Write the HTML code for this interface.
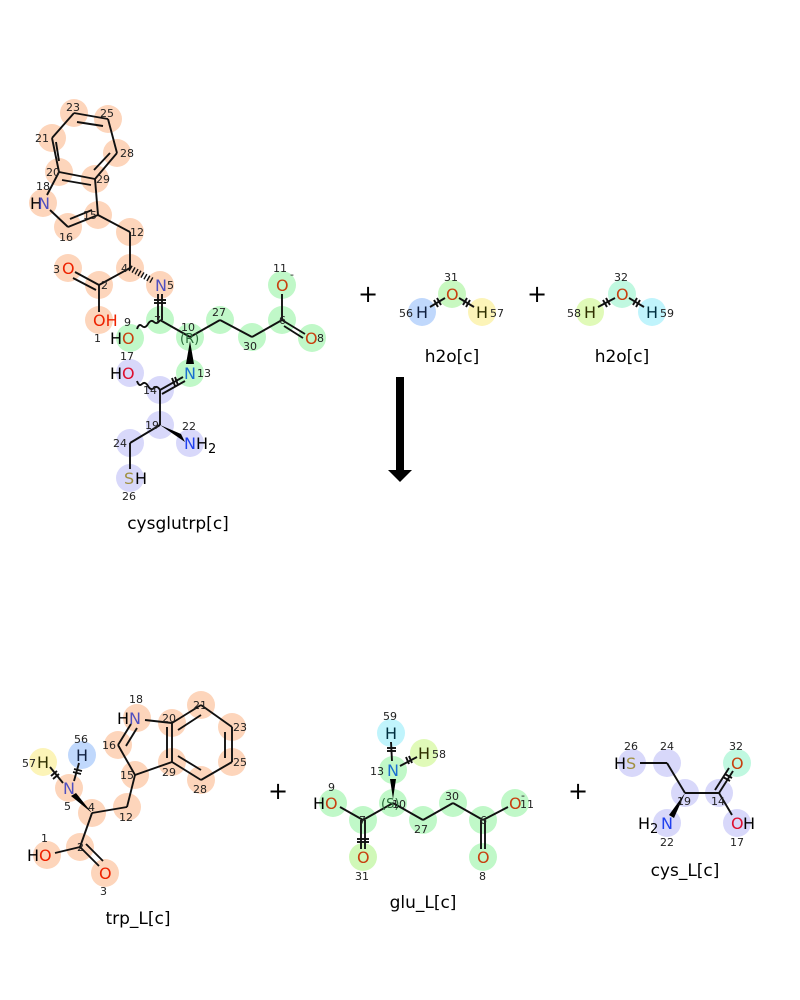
<!DOCTYPE html>
<html><head><meta charset="utf-8"><style>
html,body{margin:0;padding:0;background:#fff;}
svg{display:block;font-family:"DejaVu Sans","Liberation Sans",sans-serif;}
.n{font-size:11px;fill:#222;}
.a{font-size:16px;}
.lb{font-size:17px;fill:#000;}
.pl{font-size:24px;fill:#000;}
line,polyline,path{stroke:#111;stroke-width:1.9;fill:none;}
</style></head><body>
<svg width="800" height="1000" viewBox="0 0 800 1000" xmlns="http://www.w3.org/2000/svg">
<rect width="800" height="1000" fill="#fff"/>
<!-- ===== TOP: cysglutrp ===== -->
<g fill="#fdd5bb">
<circle cx="74" cy="113" r="14"/><circle cx="108" cy="119" r="14"/><circle cx="117" cy="153" r="14"/>
<circle cx="95" cy="179" r="14"/><circle cx="59" cy="172" r="14"/><circle cx="52" cy="138" r="14"/>
<circle cx="43" cy="203" r="14"/><circle cx="68" cy="227" r="14"/><circle cx="98" cy="215" r="14"/>
<circle cx="130" cy="232" r="14"/><circle cx="130" cy="268" r="14"/><circle cx="99" cy="285" r="14"/>
<circle cx="68" cy="268" r="14"/><circle cx="99" cy="320" r="14"/><circle cx="160" cy="285" r="14"/>
</g>
<g fill="#c0f8c8">
<circle cx="160" cy="320" r="14"/><circle cx="130" cy="338" r="14"/><circle cx="190" cy="337" r="14"/>
<circle cx="220" cy="320" r="14"/><circle cx="252" cy="337" r="14"/><circle cx="282" cy="320" r="14"/>
<circle cx="282" cy="285" r="14"/><circle cx="312" cy="338" r="14"/><circle cx="190" cy="373" r="14"/>
</g>
<g fill="#d8d8fa">
<circle cx="130" cy="373" r="14"/><circle cx="160" cy="390" r="14"/><circle cx="160" cy="425" r="14"/>
<circle cx="190" cy="443" r="14"/><circle cx="130" cy="443" r="14"/><circle cx="130" cy="478" r="14"/>
</g>
<!-- bonds top -->
<line x1="52" y1="138" x2="74" y2="113"/><line x1="74" y1="113" x2="108" y2="119"/><line x1="108" y1="119" x2="117" y2="153"/>
<line x1="117" y1="153" x2="95" y2="179"/><line x1="95" y1="179" x2="59" y2="172"/><line x1="59" y1="172" x2="52" y2="138"/>
<line x1="77" y1="122" x2="103" y2="126"/><line x1="110" y1="153" x2="94" y2="170"/><line x1="59" y1="161" x2="56" y2="142"/>
<line x1="59" y1="172" x2="47" y2="195"/><line x1="50" y1="210" x2="68" y2="227"/><line x1="68" y1="227" x2="98" y2="215"/>
<line x1="98" y1="215" x2="95" y2="179"/><line x1="70" y1="219" x2="92" y2="210"/><line x1="62" y1="180" x2="91" y2="185"/>
<line x1="98" y1="215" x2="130" y2="232"/><line x1="130" y1="232" x2="130" y2="268"/><line x1="130" y1="268" x2="99" y2="285"/>
<line x1="99" y1="285" x2="75" y2="272"/><line x1="96" y1="290" x2="73" y2="278"/><line x1="99" y1="285" x2="99" y2="312"/>
<line x1="130" y1="268" x2="153" y2="281" style="stroke-width:6;stroke-dasharray:1.4,2"/>
<line x1="158" y1="294" x2="158" y2="320"/><line x1="162" y1="294" x2="162" y2="320"/>
<line x1="154" y1="300" x2="166" y2="300"/><line x1="154" y1="303" x2="166" y2="303"/>
<path d="M160 320 q-3 5 -6 2 q-3 -3 -6 2 q-3 5 -6 2 q-3 -3 -5 3"/>
<line x1="160" y1="320" x2="190" y2="337"/><line x1="190" y1="337" x2="220" y2="320"/>
<line x1="220" y1="320" x2="252" y2="337"/><line x1="252" y1="337" x2="282" y2="320"/>
<line x1="282" y1="320" x2="282" y2="294"/><line x1="282" y1="320" x2="305" y2="334"/><line x1="284" y1="326" x2="303" y2="338"/>
<polygon points="190,341 186,364 194,364" fill="#000" style="stroke:none"/>
<line x1="183" y1="377" x2="160" y2="390"/><line x1="185" y1="381" x2="162" y2="394"/>
<line x1="172" y1="378" x2="175" y2="386"/><line x1="175" y1="377" x2="178" y2="385"/>
<path d="M160 390 q-3 -5 -6 -2 q-3 3 -6 -2 q-3 -5 -6 -2 q-3 3 -5 -3"/>
<line x1="160" y1="390" x2="160" y2="425"/>
<polygon points="160,425 181,434 185,442" fill="#000" style="stroke:none"/>
<line x1="160" y1="425" x2="130" y2="443"/><line x1="130" y1="443" x2="130" y2="469"/>
<!-- atom labels top -->
<text x="30" y="209" class="a" fill="#000">H</text><text x="38" y="209" class="a" fill="#5050c0">N</text>
<text x="62" y="274" class="a" fill="#ee2200">O</text><text x="53" y="273" class="n">3</text>
<text x="93" y="326" class="a" fill="#ee2200">OH</text><text x="94" y="342" class="n">1</text>
<text x="155" y="291" class="a" fill="#5050c0">N</text><text x="167" y="289" class="n">5</text>
<text x="110" y="344" class="a" fill="#000">H</text><text x="122" y="344" class="a" fill="#c84010">O</text><text x="124" y="326" class="n">9</text>
<text x="276" y="291" class="a" fill="#c84010">O</text><text x="273" y="272" class="n">11</text><text x="290" y="278" class="n">-</text>
<text x="305" y="344" class="a" fill="#c84010">O</text><text x="317" y="342" class="n">8</text>
<text x="184" y="379" class="a" fill="#1a70d0">N</text><text x="197" y="377" class="n">13</text>
<text x="110" y="379" class="a" fill="#000">H</text><text x="122" y="379" class="a" fill="#dd1030">O</text><text x="120" y="360" class="n">17</text>
<text x="184" y="449" class="a" fill="#2040ee">N</text><text x="196" y="449" class="a" fill="#000">H</text><text x="208" y="453" class="n" style="font-size:13px;fill:#000">2</text><text x="182" y="430" class="n">22</text>
<text x="124" y="484" class="a" fill="#a09040">S</text><text x="135" y="484" class="a" fill="#000">H</text><text x="122" y="500" class="n">26</text>
<g class="n">
<text x="66" y="111">23</text><text x="100" y="117">25</text><text x="120" y="157">28</text><text x="96" y="183">29</text>
<text x="46" y="176">20</text><text x="35" y="142">21</text><text x="36" y="190">18</text><text x="59" y="241">16</text>
<text x="83" y="219">15</text><text x="130" y="236">12</text><text x="121" y="272">4</text><text x="101" y="289">2</text>
<text x="154" y="324">7</text><text x="181" y="331">10</text><text x="212" y="316">27</text><text x="243" y="350">30</text><text x="279" y="324">6</text>
<text x="143" y="394">14</text><text x="145" y="429">19</text><text x="113" y="447">24</text>
</g>
<text x="180" y="343" style="font-size:13px;fill:#2a6a3a">(R)</text>
<text x="178" y="529" class="lb" text-anchor="middle">cysglutrp[c]</text>
<!-- waters -->
<text x="368" y="302" class="pl" text-anchor="middle">+</text>
<text x="537" y="302" class="pl" text-anchor="middle">+</text>
<circle cx="422" cy="312" r="14" fill="#c0d8fc"/><circle cx="452" cy="294" r="14" fill="#c8f8c0"/><circle cx="482" cy="312" r="14" fill="#fcf4b8"/>
<circle cx="590" cy="312" r="14" fill="#e0fab8"/><circle cx="622" cy="294" r="14" fill="#c0f8e0"/><circle cx="652" cy="312" r="14" fill="#c0f4fc"/>
<line x1="430" y1="307" x2="445" y2="298"/><line x1="459" y1="298" x2="474" y2="307"/>
<line x1="598" y1="307" x2="615" y2="298"/><line x1="629" y1="298" x2="644" y2="307"/>
<line x1="434" y1="300" x2="438" y2="307"/><line x1="437" y1="298" x2="441" y2="305"/>
<line x1="463" y1="305" x2="467" y2="298"/><line x1="466" y1="307" x2="470" y2="300"/>
<line x1="603" y1="300" x2="607" y2="307"/><line x1="606" y1="298" x2="610" y2="305"/>
<line x1="633" y1="305" x2="637" y2="298"/><line x1="636" y1="307" x2="640" y2="300"/>
<text x="416" y="318" class="a" fill="#102040">H</text><text x="446" y="300" class="a" fill="#c84010">O</text><text x="476" y="318" class="a" fill="#303000">H</text>
<text x="399" y="317" class="n">56</text><text x="444" y="281" class="n">31</text><text x="490" y="317" class="n">57</text>
<text x="584" y="318" class="a" fill="#303000">H</text><text x="616" y="300" class="a" fill="#c84010">O</text><text x="646" y="318" class="a" fill="#003040">H</text>
<text x="567" y="317" class="n">58</text><text x="614" y="281" class="n">32</text><text x="660" y="317" class="n">59</text>
<text x="452" y="362" class="lb" text-anchor="middle">h2o[c]</text>
<text x="622" y="362" class="lb" text-anchor="middle">h2o[c]</text>
<!-- arrow -->
<rect x="396" y="377" width="8" height="94" fill="#000"/>
<polygon points="388,470 412,470 400,482" fill="#000"/>
<!-- ===== BOTTOM: trp ===== -->
<g fill="#fdd5bb">
<circle cx="137" cy="718" r="14"/><circle cx="172" cy="723" r="14"/><circle cx="201" cy="705" r="14"/>
<circle cx="232" cy="727" r="14"/><circle cx="232" cy="762" r="14"/><circle cx="201" cy="780" r="14"/>
<circle cx="172" cy="762" r="14"/><circle cx="118" cy="745" r="14"/><circle cx="135" cy="775" r="14"/>
<circle cx="127" cy="807" r="14"/><circle cx="92" cy="813" r="14"/><circle cx="69" cy="788" r="14"/>
<circle cx="80" cy="847" r="14"/><circle cx="47" cy="855" r="14"/><circle cx="105" cy="873" r="14"/>
</g>
<circle cx="82" cy="755" r="14" fill="#c0d8fc"/><circle cx="43" cy="762" r="14" fill="#fcf4b8"/>
<line x1="172" y1="723" x2="201" y2="705"/><line x1="201" y1="705" x2="232" y2="727"/><line x1="232" y1="727" x2="232" y2="762"/>
<line x1="232" y1="762" x2="201" y2="780"/><line x1="201" y1="780" x2="172" y2="762"/><line x1="172" y1="762" x2="172" y2="723"/>
<line x1="178" y1="730" x2="201" y2="715"/><line x1="225" y1="732" x2="225" y2="758"/><line x1="178" y1="756" x2="201" y2="770"/>
<line x1="145" y1="720" x2="172" y2="723"/><line x1="131" y1="724" x2="118" y2="745"/><line x1="137" y1="728" x2="126" y2="746"/>
<line x1="118" y1="745" x2="135" y2="775"/><line x1="135" y1="775" x2="172" y2="762"/><line x1="167" y1="727" x2="167" y2="758"/>
<line x1="135" y1="775" x2="127" y2="807"/><line x1="127" y1="807" x2="92" y2="813"/>
<polygon points="92,813 71,796 76,793" fill="#000" style="stroke:none"/>
<line x1="74" y1="781" x2="79" y2="763"/><line x1="63" y1="783" x2="50" y2="767"/>
<line x1="73" y1="772" x2="81" y2="774"/><line x1="74" y1="769" x2="82" y2="771"/>
<line x1="51" y1="776" x2="57" y2="771"/><line x1="53" y1="779" x2="59" y2="774"/>
<line x1="92" y1="813" x2="80" y2="847"/><line x1="80" y1="847" x2="55" y2="853"/>
<line x1="80" y1="847" x2="99" y2="866"/><line x1="86" y1="844" x2="103" y2="861"/>
<text x="117" y="724" class="a" fill="#000">H</text><text x="129" y="724" class="a" fill="#5050c0">N</text><text x="129" y="703" class="n">18</text>
<text x="63" y="794" class="a" fill="#5050c0">N</text><text x="64" y="810" class="n">5</text>
<text x="76" y="761" class="a" fill="#102040">H</text><text x="74" y="743" class="n">56</text>
<text x="37" y="768" class="a" fill="#303000">H</text><text x="22" y="767" class="n">57</text>
<text x="27" y="861" class="a" fill="#000">H</text><text x="39" y="861" class="a" fill="#ee2200">O</text><text x="41" y="842" class="n">1</text>
<text x="99" y="879" class="a" fill="#ee2200">O</text><text x="100" y="895" class="n">3</text>
<g class="n">
<text x="193" y="709">21</text><text x="233" y="731">23</text><text x="233" y="766">25</text><text x="193" y="793">28</text>
<text x="162" y="776">29</text><text x="162" y="722">20</text><text x="102" y="749">16</text><text x="120" y="779">15</text>
<text x="119" y="821">12</text><text x="88" y="811">4</text><text x="77" y="851">2</text>
</g>
<text x="138" y="924" class="lb" text-anchor="middle">trp_L[c]</text>
<text x="278" y="799" class="pl" text-anchor="middle">+</text>
<!-- glu -->
<g fill="#c0f8c8">
<circle cx="393" cy="770" r="14"/><circle cx="393" cy="803" r="14"/><circle cx="333" cy="803" r="14"/>
<circle cx="363" cy="820" r="14"/><circle cx="423" cy="820" r="14"/><circle cx="453" cy="803" r="14"/>
<circle cx="483" cy="820" r="14"/><circle cx="515" cy="803" r="14"/><circle cx="483" cy="857" r="14"/>
</g>
<circle cx="363" cy="857" r="14" fill="#d0f8b8"/>
<circle cx="391" cy="733" r="14" fill="#c0f4fc"/><circle cx="424" cy="753" r="14" fill="#e0fab8"/>
<line x1="392" y1="761" x2="391" y2="742"/><line x1="400" y1="766" x2="417" y2="757"/>
<line x1="387" y1="748" x2="396" y2="748"/><line x1="387" y1="751" x2="396" y2="751"/>
<line x1="406" y1="757" x2="409" y2="764"/><line x1="409" y1="756" x2="412" y2="763"/>
<polygon points="393,799 390,779 396,779" fill="#000" style="stroke:none"/>
<line x1="393" y1="803" x2="363" y2="820"/><line x1="363" y1="820" x2="340" y2="807"/>
<line x1="361" y1="820" x2="361" y2="849"/><line x1="365" y1="820" x2="365" y2="849"/>
<line x1="357" y1="839" x2="369" y2="839"/><line x1="357" y1="842" x2="369" y2="842"/>
<line x1="393" y1="803" x2="423" y2="820"/><line x1="423" y1="820" x2="453" y2="803"/><line x1="453" y1="803" x2="483" y2="820"/>
<line x1="483" y1="820" x2="508" y2="807"/>
<line x1="481" y1="820" x2="481" y2="849"/><line x1="485" y1="820" x2="485" y2="849"/>
<text x="387" y="776" class="a" fill="#1a70d0">N</text><text x="370" y="775" class="n">13</text>
<text x="385" y="739" class="a" fill="#003040">H</text><text x="383" y="720" class="n">59</text>
<text x="418" y="759" class="a" fill="#303000">H</text><text x="432" y="758" class="n">58</text>
<text x="313" y="809" class="a" fill="#000">H</text><text x="325" y="809" class="a" fill="#c84010">O</text><text x="328" y="791" class="n">9</text>
<text x="357" y="863" class="a" fill="#c84010">O</text><text x="355" y="880" class="n">31</text>
<text x="509" y="809" class="a" fill="#c84010">O</text><text x="520" y="808" class="n">11</text><text x="521" y="799" class="n">-</text>
<text x="477" y="863" class="a" fill="#c84010">O</text><text x="479" y="880" class="n">8</text>
<text x="381" y="808" style="font-size:13px;fill:#2a6a3a">(S)</text>
<g class="n"><text x="392" y="808">10</text><text x="414" y="833">27</text><text x="445" y="800">30</text><text x="359" y="824">7</text><text x="480" y="824">6</text></g>
<text x="423" y="908" class="lb" text-anchor="middle">glu_L[c]</text>
<text x="578" y="799" class="pl" text-anchor="middle">+</text>
<!-- cys -->
<g fill="#d8d8fa">
<circle cx="632" cy="763" r="14"/><circle cx="667" cy="763" r="14"/><circle cx="685" cy="793" r="14"/>
<circle cx="719" cy="793" r="14"/><circle cx="737" cy="823" r="14"/><circle cx="667" cy="823" r="14"/>
</g>
<circle cx="737" cy="763" r="14" fill="#c0f8e0"/>
<line x1="640" y1="763" x2="667" y2="763"/><line x1="667" y1="763" x2="685" y2="793"/><line x1="685" y1="793" x2="719" y2="793"/>
<polygon points="685,793 669,815 674,818" fill="#000" style="stroke:none"/>
<line x1="719" y1="793" x2="733" y2="771"/><line x1="715" y1="790" x2="729" y2="768"/>
<line x1="723" y1="777" x2="730" y2="781"/><line x1="725" y1="774" x2="732" y2="778"/>
<line x1="719" y1="793" x2="732" y2="815"/>
<text x="614" y="769" class="a" fill="#000">H</text><text x="626" y="769" class="a" fill="#a09040">S</text><text x="624" y="750" class="n">26</text>
<text x="731" y="769" class="a" fill="#c84010">O</text><text x="729" y="750" class="n">32</text>
<text x="731" y="829" class="a" fill="#dd1030">O</text><text x="743" y="829" class="a" fill="#000">H</text><text x="730" y="846" class="n">17</text>
<text x="638" y="829" class="a" fill="#000">H</text><text x="650" y="833" style="font-size:13px;fill:#000">2</text><text x="661" y="829" class="a" fill="#2040ee">N</text><text x="660" y="846" class="n">22</text>
<g class="n"><text x="660" y="750">24</text><text x="677" y="805">19</text><text x="711" y="805">14</text></g>
<text x="685" y="876" class="lb" text-anchor="middle">cys_L[c]</text>
</svg>
</body></html>
